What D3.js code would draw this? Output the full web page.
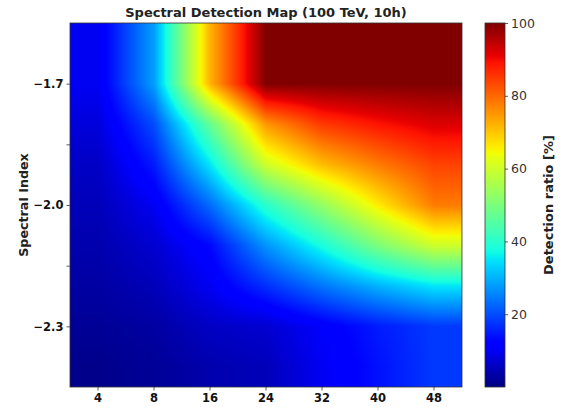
<!DOCTYPE html>
<html>
<head>
<meta charset="utf-8">
<script src="https://cdn.jsdelivr.net/npm/d3@7"></script>
<style>
  body { margin: 0; background: #fff; }
  svg { display: block; }
  text { font-family: "DejaVu Sans", sans-serif; }
</style>
</head>
<body>
<div id="chart"></div>
<script>
// exposure / x categories
var exposures = [4, 8, 16, 24, 32, 40, 48];
// spectral index of each row (top to bottom)
var spectralIndex = [-1.6, -1.7, -1.8, -1.9, -2.0, -2.1, -2.2, -2.3, -2.4];
// detection ratio [%], one array per row
var ratioRow0 = [10, 28, 72, 100, 100, 100, 100];
var ratioRow1 = [10, 28, 72, 100, 100, 100, 100];
var ratioRow2 = [8, 20, 47, 75, 85, 89, 92];
var ratioRow3 = [6, 15, 35, 60, 71, 78, 84];
var ratioRow4 = [5, 10, 23, 40, 53, 66, 78];
var ratioRow5 = [4, 7, 13, 27, 38, 50, 60];
var ratioRow6 = [3, 5, 10, 17, 24, 30, 35];
var ratioRow7 = [2, 3, 6, 7, 11, 15, 18];
var ratioRow8 = [1, 2, 4, 5, 10, 14, 18];
var ratio = [ratioRow0, ratioRow1, ratioRow2, ratioRow3, ratioRow4,
             ratioRow5, ratioRow6, ratioRow7, ratioRow8];

var yTicks = [-1.7, -1.85, -2.0, -2.15, -2.3];
var yLabeled = [-1.7, -2.0, -2.3];
var cbTicks = [20, 40, 60, 80, 100];

var width = 582, height = 407;
var plot = { left: 70, top: 23, right: 462, bottom: 387 };
var W = plot.right - plot.left, H = plot.bottom - plot.top;

var svg = d3.select("#chart").append("svg")
    .attr("width", width)
    .attr("height", height);

var x = d3.scaleBand().domain(exposures).range([plot.left, plot.right]);
var y = d3.scaleLinear().domain([-2.45, -1.55]).range([plot.bottom, plot.top]);

// fractional column / row index for interpolation
var colIdx = d3.scaleLinear()
    .domain([x(exposures[0]) + x.bandwidth() / 2, x(exposures[exposures.length - 1]) + x.bandwidth() / 2])
    .range([0, exposures.length - 1]).clamp(true);
var rowIdx = d3.scaleLinear()
    .domain([spectralIndex[0], spectralIndex[spectralIndex.length - 1]])
    .range([0, spectralIndex.length - 1]).clamp(true);

// jet colormap
var jetR = d3.scaleLinear().domain([0, 35, 66, 89, 100]).range([0, 0, 1, 1, 0.5]).clamp(true);
var jetG = d3.scaleLinear().domain([0, 12.5, 37.5, 64, 91, 100]).range([0, 0, 1, 1, 0, 0]).clamp(true);
var jetB = d3.scaleLinear().domain([0, 11, 34, 65, 100]).range([0.5, 1, 1, 0, 0]).clamp(true);
function jet(v) {
    return [Math.round(jetR(v) * 255), Math.round(jetG(v) * 255), Math.round(jetB(v) * 255)];
}

function sample(fi, fj) {
    var i0 = Math.floor(fi), j0 = Math.floor(fj);
    var i1 = Math.min(i0 + 1, exposures.length - 1), j1 = Math.min(j0 + 1, spectralIndex.length - 1);
    var tx = fi - i0, ty = fj - j0;
    var a = ratio[j0][i0] * (1 - tx) + ratio[j0][i1] * tx;
    var b = ratio[j1][i0] * (1 - tx) + ratio[j1][i1] * tx;
    return a * (1 - ty) + b * ty;
}

// heatmap raster (bilinear)
var canvas = document.createElement("canvas");
canvas.width = W; canvas.height = H;
var ctx = canvas.getContext("2d");
var img = ctx.createImageData(W, H);
for (var py = 0; py < H; py++) {
    var fj = rowIdx(y.invert(plot.top + py + 0.5));
    for (var px = 0; px < W; px++) {
        var fi = colIdx(plot.left + px + 0.5);
        var c = jet(sample(fi, fj));
        var k = (py * W + px) * 4;
        img.data[k] = c[0]; img.data[k + 1] = c[1]; img.data[k + 2] = c[2]; img.data[k + 3] = 255;
    }
}
ctx.putImageData(img, 0, 0);

svg.append("image")
    .attr("x", plot.left).attr("y", plot.top)
    .attr("width", W).attr("height", H)
    .attr("preserveAspectRatio", "none")
    .attr("href", canvas.toDataURL());

svg.append("rect")
    .attr("x", plot.left).attr("y", plot.top)
    .attr("width", W).attr("height", H)
    .style("fill", "none").style("stroke", "#333").style("stroke-width", 0.8);

// axes
var xAxis = svg.append("g")
    .attr("transform", "translate(0," + plot.bottom + ")")
    .call(d3.axisBottom(x).tickSize(3.5).tickPadding(3).tickSizeOuter(0));
var yAxis = svg.append("g")
    .attr("transform", "translate(" + plot.left + ",0)")
    .call(d3.axisLeft(y).tickValues(yTicks).tickSize(3.5).tickPadding(3)
        .tickFormat(function(d) { return yLabeled.indexOf(d) >= 0 ? d3.format(".1f")(d) : ""; }));
[xAxis, yAxis].forEach(function(g) {
    g.select(".domain").remove();
    g.selectAll("line").style("stroke", "#333").style("stroke-width", 0.8);
    g.selectAll("text").style("font-size", "11.5px").style("font-weight", "bold").style("fill", "#111");
});

svg.append("text")
    .attr("x", (plot.left + plot.right) / 2).attr("y", 17)
    .attr("text-anchor", "middle")
    .style("font-size", "13px").style("font-weight", "bold").style("fill", "#222")
    .text("Spectral Detection Map (100 TeV, 10h)");

svg.append("text")
    .attr("transform", "translate(28," + ((plot.top + plot.bottom) / 2) + ") rotate(-90)")
    .attr("text-anchor", "middle")
    .style("font-size", "12.7px").style("font-weight", "bold").style("fill", "#222")
    .text("Spectral Index");

// colorbar
var cb = { left: 485, width: 20 };
var cScale = d3.scaleLinear().domain([0, 100]).range([plot.bottom, plot.top]);
var grad = svg.append("defs").append("linearGradient")
    .attr("id", "jetgrad").attr("x1", 0).attr("y1", 1).attr("x2", 0).attr("y2", 0);
grad.selectAll("stop").data(d3.range(0, 101, 1)).enter().append("stop")
    .attr("offset", function(d) { return d + "%"; })
    .attr("stop-color", function(d) { var c = jet(d); return d3.rgb(c[0], c[1], c[2]).formatHex(); });
svg.append("rect")
    .attr("x", cb.left).attr("y", plot.top)
    .attr("width", cb.width).attr("height", H)
    .style("fill", "url(#jetgrad)").style("stroke", "#333").style("stroke-width", 0.8);
var cAxis = svg.append("g")
    .attr("transform", "translate(" + (cb.left + cb.width) + ",0)")
    .call(d3.axisRight(cScale).tickValues(cbTicks).tickSize(3).tickPadding(3));
cAxis.select(".domain").remove();
cAxis.selectAll("line").style("stroke", "#333").style("stroke-width", 0.8);
cAxis.selectAll("text").style("font-size", "12.5px").style("fill", "#333");

svg.append("text")
    .attr("transform", "translate(553," + ((plot.top + plot.bottom) / 2) + ") rotate(-90)")
    .attr("text-anchor", "middle")
    .style("font-size", "13px").style("font-weight", "bold").style("fill", "#222")
    .text("Detection ratio [%]");
</script>
</body>
</html>
